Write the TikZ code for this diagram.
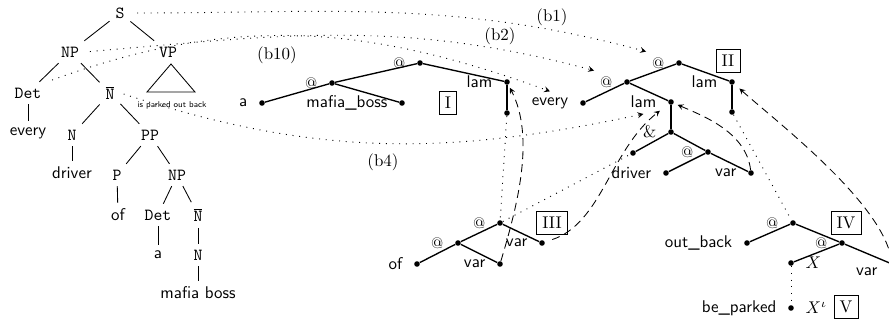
\documentclass[tikz,border=0pt]{standalone}

\begin{document}
\begin{tikzpicture}[
    x=0.59pt,y=-0.59pt,
    label distance=3.3pt,
    vtx/.style={circle,fill,inner sep=0pt,minimum size=3.3pt},
    lbl/.style={font=\sffamily},
    atlbl/.style={font=\small},
    tcat/.style={font=\ttfamily},
    tleaf/.style={font=\sffamily},
    tedge/.style={line width=0.5pt},
    gedge/.style={line width=0.8pt},
    numbox/.style={rectangle,draw,line width=0.5pt},
    bref/.style={font=\normalsize},
    trace/.style={line width=0.55pt,dash pattern=on 0.55pt off 3.4pt},
    tracearrow/.style={trace,->,>=stealth},
    link/.style={->,>=stealth,line width=0.5pt,dash pattern=on 4.7pt off 3pt}
]
\useasboundingbox (0,0) rectangle (889,324);

% Syntax tree
\node[tcat] (S) at (120,13) {S};
\node[tcat] (NPa) at (70,52) {NP};
\node[tcat] (VP) at (168,52) {VP};
\node[tcat] (Deta) at (28,93) {Det};
\node[tcat] (Nbara) at (110,93) {$\overline{\mbox{N}}$};
\node[tleaf] (every) at (28,133) {every};
\node[tcat] (Na) at (72,135) {N};
\node[tcat] (PP) at (150,135) {PP};
\node[tleaf] (driver) at (72,173) {driver};
\node[tcat] (P) at (117,175) {P};
\node[tcat] (NPb) at (177,175) {NP};
\node[tleaf] (of) at (118,215) {of};
\node[tcat] (Detb) at (158,215) {Det};
\node[tcat] (Nbarb) at (198,215) {$\overline{\mbox{N}}$};
\node[tleaf] (a) at (158,255) {a};
\node[tcat] (Nb) at (198,255) {N};
\node[tleaf] (mafiaboss) at (198,293) {mafia boss};

\draw[tedge] (S) -- (NPa);
\draw[tedge] (S) -- (VP);
\draw[tedge] (NPa) -- (Deta);
\draw[tedge] (NPa) -- (Nbara);
\draw[tedge] (Deta) -- (every);
\draw[tedge] (Nbara) -- (Na);
\draw[tedge] (Nbara) -- (PP);
\draw[tedge] (Na) -- (driver);
\draw[tedge] (PP) -- (P);
\draw[tedge] (PP) -- (NPb);
\draw[tedge] (P) -- (of);
\draw[tedge] (NPb) -- (Detb);
\draw[tedge] (NPb) -- (Nbarb);
\draw[tedge] (Detb) -- (a);
\draw[tedge] (Nbarb) -- (Nb);
\draw[tedge] (Nb) -- (mafiaboss);

% VP triangle
\draw[tedge] (171,64) -- (147,92) -- (195,92) -- cycle;
\node[font=\tiny\sffamily] (vpyield) at (172,105) {is parked out back};

% Graph I
\node[vtx,label={[lbl]left:a}] (Ia) at (262,103) {};
\node[vtx,label={[atlbl]left:@}] (Iapp) at (332,83) {};
\node[vtx,label={[lbl]left:mafia\_boss}] (Imb) at (402,103) {};
\node[vtx,label={[atlbl]left:@}] (Iatop) at (420,63) {};
\node[vtx,label={[lbl]left:lam}] (Ilam) at (507,82) {};
\node[vtx] (Ilamc) at (507,113) {};
\node[numbox] (boxI) at (448,103) {I};

\draw[gedge] (Iatop) -- (Iapp);
\draw[gedge] (Iapp) -- (Ia);
\draw[gedge] (Iapp) -- (Imb);
\draw[gedge] (Iatop) -- (Ilam);
\draw[gedge] (Ilam) -- (Ilamc);

% Graph II
\node[vtx,label={[lbl,name=IIevL]left:every}] (IIev) at (583,103) {};
\node[vtx,label={[atlbl,name=IIappL]left:@}] (IIapp) at (627,82) {};
\node[vtx,label={[atlbl,name=IIatopL]left:@}] (IIatop) at (679,63) {};
\node[vtx,label={[lbl]left:lam}] (IIlamt) at (732,82) {};
\node[vtx] (IIlamtc) at (732,112) {};
\node[vtx,label={[lbl,name=IIlamiL]left:lam}] (IIlami) at (671,102) {};
\node[vtx,label={[font=\normalsize]left:\&}] (IIand) at (671,132) {};
\node[vtx] (IIandl) at (633,153) {};
\node[vtx,label={[atlbl]left:@}] (IIapi) at (708,152) {};
\node[vtx,label={[lbl]left:driver}] (IIdrv) at (666,173) {};
\node[vtx,label={[lbl]left:var}] (IIvar) at (751,173) {};
\node[numbox] (boxII) at (728,61) {II};

\draw[gedge] (IIatop) -- (IIapp);
\draw[gedge] (IIapp) -- (IIev);
\draw[gedge] (IIapp) -- (IIlami);
\draw[gedge] (IIatop) -- (IIlamt);
\draw[gedge] (IIlamt) -- (IIlamtc);
\draw[gedge] (IIlami) -- (IIand);
\draw[gedge] (IIand) -- (IIandl);
\draw[gedge] (IIand) -- (IIapi);
\draw[gedge] (IIapi) -- (IIdrv);
\draw[gedge] (IIapi) -- (IIvar);

% Graph III
\node[vtx,label={[lbl]left:of}] (IIIof) at (417,264) {};
\node[vtx,label={[atlbl]left:@}] (IIIapp) at (458,243) {};
\node[vtx,label={[atlbl]left:@}] (IIIatop) at (500,223) {};
\node[vtx,label={[lbl]left:var}] (IIIvar) at (500,264) {};
\node[vtx,label={[lbl]left:var}] (IIIvr) at (542,243) {};
\node[numbox] (boxIII) at (552,223) {III};

\draw[gedge] (IIIatop) -- (IIIapp);
\draw[gedge] (IIIapp) -- (IIIof);
\draw[gedge] (IIIapp) -- (IIIvar);
\draw[gedge] (IIIatop) -- (IIIvr);

% Graph IV
\node[vtx,label={[lbl]left:out\_back}] (IVob) at (747,243) {};
\node[vtx,label={[atlbl]left:@}] (IVatop) at (793,223) {};
\node[vtx,label={[atlbl]left:@}] (IVapi) at (842,243) {};
\node[vtx,label={[lbl]right:$X$}] (IVX) at (791,263) {};
\node[vtx,label={[lbl,yshift=-4.5pt]left:var}] (IVvar) at (892,264) {};
\node[vtx,label={[lbl]left:be\_parked},label={[lbl]right:$X^\iota$}] (IVbe) at (791,308) {};
\node[numbox] (boxIV) at (846,223) {IV};
\node[numbox] (boxV) at (846,307) {V};

\draw[gedge] (IVatop) -- (IVob);
\draw[gedge] (IVatop) -- (IVapi);
\draw[gedge] (IVapi) -- (IVX);
\draw[gedge] (IVapi) -- (IVvar);

% Tree to graph links
\draw[tracearrow,shorten <=4pt] (S.east) to[out=0,in=165] (IIatopL.north west);
\node[bref] (b1) at (552,17) {(b1)};
\draw[tracearrow,shorten <=3pt] (NPa.east) to[out=5,in=165] (IIappL.north west);
\node[bref] (b2) at (500,36) {(b2)};
\draw[tracearrow,shorten <=3pt] (Deta.north east) to[out=20,in=160] (IIevL.north);
\node[bref] (b10) at (277,55) {(b10)};
\draw[tracearrow,shorten <=2pt] (Nbara.east) to[out=-18,in=192] (IIlamiL.south);
\node[bref] (b4) at (383,162) {(b4)};

% Dotted joins
\draw[trace] (Ilamc) -- (IIIatop);
\draw[trace] (IIIatop) -- (IIandl);
\draw[trace] (IIlamtc) -- (IVatop);
\draw[trace] (IVX) -- (IVbe);

% Dashed bindings
\draw[link,shorten >=2pt] (IIIvar) .. controls +(18,-60) and +(28,55) .. (Ilam);
\draw[link,shorten <=4.5pt,shorten >=6.5pt] (IIIvr) .. controls +(60,-20) and +(-61,48) .. (IIlami);
\draw[link,shorten >=2.4pt] (IIvar) .. controls +(-5,-40) and +(35,15) .. (IIlami);
\draw[link,shorten >=4pt] (IVvar) .. controls +(-8,-60) and +(45,40) .. (IIlamt);

\end{tikzpicture}
\end{document}
